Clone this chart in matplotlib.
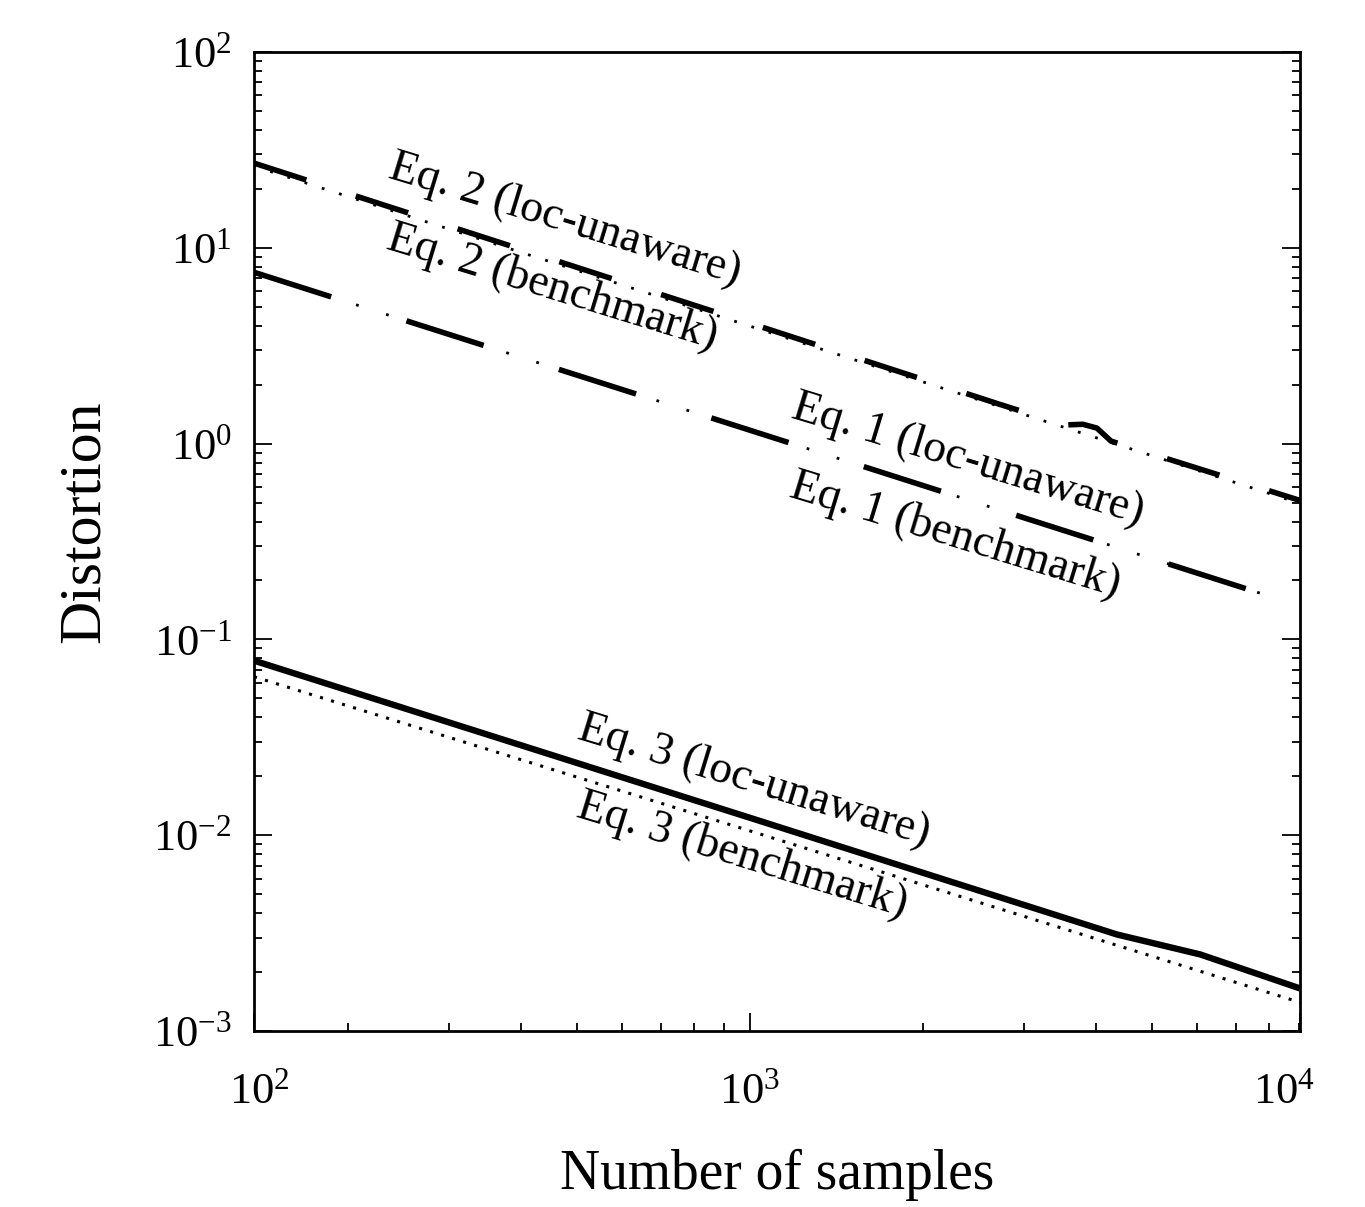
import matplotlib
matplotlib.use("Agg")
import matplotlib.pyplot as plt
from matplotlib.ticker import NullFormatter, LogLocator
from matplotlib.transforms import ScaledTranslation

# ---------------- data ----------------
samples_eq2_unaware = [137.2, 1000, 2720, 3530, 3794, 4013, 4245, 9050]
eq2_unaware = [27.07, 4.12, 1.586, 1.245, 1.255, 1.20, 1.03, 0.5125]

samples_eq2_bench = [137.2, 1000, 9050]
eq2_bench = [26.1, 3.98, 0.495]

samples_eq1 = [137.2, 1000, 8020]
eq1_unaware = [7.50, 1.17, 0.166]
eq1_bench = [7.50, 1.17, 0.166]

samples_eq3_unaware = [137.2, 1000, 4350, 6070, 9050]
eq3_unaware = [0.0779, 0.01227, 0.00311, 0.00246, 0.00165]

samples_eq3_bench = [137.2, 1000, 9050]
eq3_bench = [0.0645, 0.01052, 0.00140]

x_tick_vals = [137.2, 1000, 9050]
x_tick_labels = [r'$\mathdefault{10^{2}}$', r'$\mathdefault{10^{3}}$', r'$\mathdefault{10^{4}}$']

labels = ["Eq. 2 (loc-unaware)", "Eq. 2 (benchmark)",
          "Eq. 1 (loc-unaware)", "Eq. 1 (benchmark)",
          "Eq. 3 (loc-unaware)", "Eq. 3 (benchmark)"]
label_x = [477, 453, 2394, 2273, 1016, 968]
label_y = [13.84, 6.29, 0.8205, 0.3395, 0.01897, 0.00785]

# ---------------- style ----------------
plt.rcParams['font.family'] = ['Liberation Serif', 'DejaVu Serif']
plt.rcParams['mathtext.default'] = 'regular'
plt.rcParams['lines.scale_dashes'] = False

fig = plt.figure(figsize=(13.65, 12.07), dpi=100)
ax = fig.add_axes([254 / 1365, 1 - 1031 / 1207, (1300 - 254) / 1365, (1031 - 52) / 1207])
ax.set_xscale('log')
ax.set_yscale('log')

# benchmark dotted lines
ax.plot(samples_eq2_bench, eq2_bench, color='black', lw=2.0,
        linestyle=(0.7, (2.0, 11.0)), dash_capstyle='butt')
ax.plot(samples_eq1, eq1_bench, color='black', lw=2.0,
        linestyle=(13.7, (2.0, 20.7)), dash_capstyle='butt')
ax.plot(samples_eq3_bench, eq3_bench, color='black', lw=2.2,
        linestyle=(0, (2.2, 6.1)), dash_capstyle='butt')

# loc-unaware lines
ax.plot(samples_eq2_unaware, eq2_unaware, color='black', lw=4.0,
        linestyle=(0, (39.6, 37.4)), dash_capstyle='butt')
ax.plot(samples_eq1, eq1_unaware, color='black', lw=4.0,
        linestyle=(0, (58.3, 56.9)), dash_capstyle='butt')
ax.plot(samples_eq3_unaware, eq3_unaware, color='black', lw=4.6,
        solid_capstyle='butt')

for txt, lx, ly in zip(labels, label_x, label_y):
    ax.text(lx, ly, txt, fontsize=33, rotation=-17, rotation_mode='anchor',
            ha='center', va='center')

ax.set_xlim(137.2, 9050)
ax.set_ylim(1e-3, 1e2)

ax.set_xticks(x_tick_vals, labels=x_tick_labels)
ax.xaxis.set_minor_locator(LogLocator(base=10, subs=range(2, 10), numticks=20))
ax.xaxis.set_minor_formatter(NullFormatter())
ax.yaxis.set_minor_locator(LogLocator(base=10, subs=range(2, 10), numticks=20))
ax.yaxis.set_minor_formatter(NullFormatter())

ax.tick_params(axis='both', which='both', direction='in', top=False, right=True,
               width=1.3, colors='black')
ax.tick_params(axis='both', which='major', length=13)
ax.tick_params(axis='both', which='minor', length=6)
ax.tick_params(axis='x', which='major', labelsize=32, pad=30)
ax.tick_params(axis='y', which='major', labelsize=32, pad=16)

for sp in ax.spines.values():
    sp.set_linewidth(2.0)

ax.set_xlabel('Number of samples', fontsize=40, va='center')
ax.xaxis.set_label_coords(0.5, -0.147)
ax.set_ylabel('Distortion', fontsize=43, va='center')
ax.yaxis.set_label_coords(-0.162, 0.52)

# nudge the end labels as in the reference
ticks = ax.xaxis.get_major_ticks()
offs = [5, 0, -16]
for tk, o in zip(ticks, offs):
    tk.label1.set_transform(tk.label1.get_transform() +
                            ScaledTranslation(o / 100, 0, fig.dpi_scale_trans))

fig.savefig('out.png', dpi=100, facecolor='white')
